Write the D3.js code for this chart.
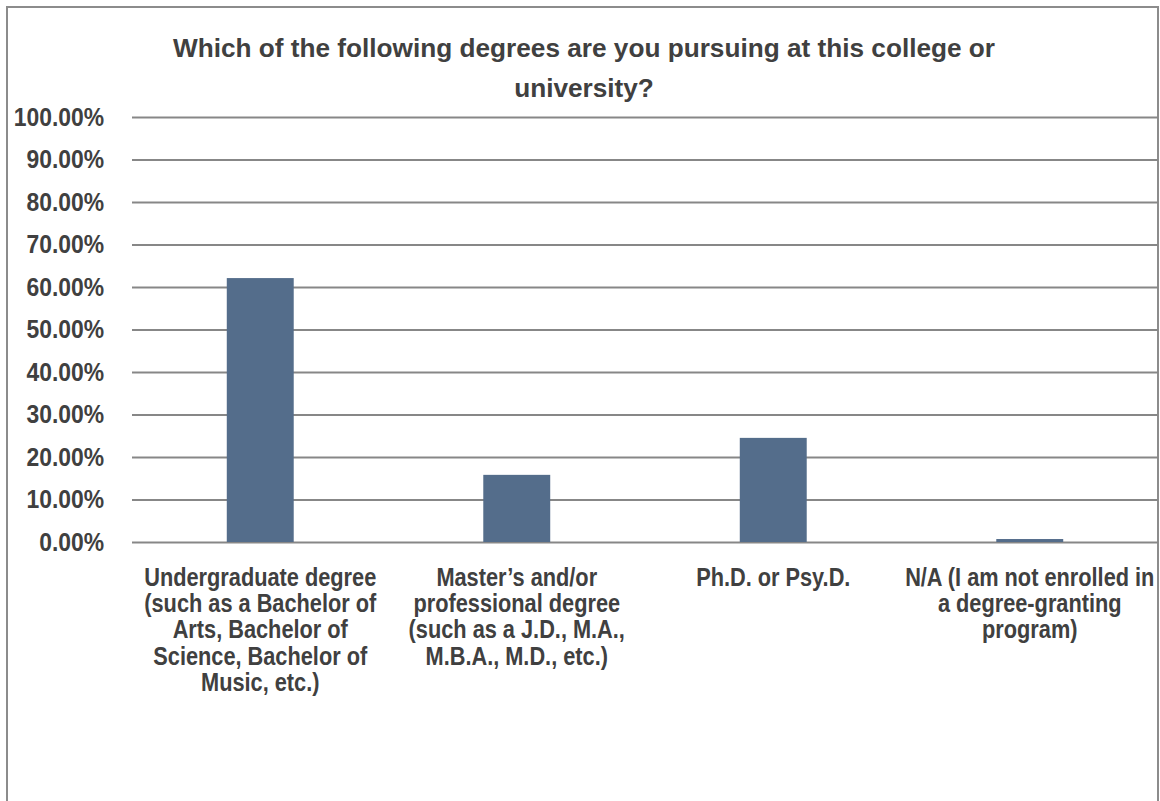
<!DOCTYPE html>
<html>
<head>
<meta charset="utf-8">
<script src="https://cdn.jsdelivr.net/npm/d3@7"></script>
<style>
  html, body { margin: 0; padding: 0; background: #ffffff; }
  svg { display: block; }
  text { font-family: "Liberation Sans", Arial, sans-serif; font-weight: bold; fill: #404040; }
</style>
</head>
<body>
<svg id="chart" width="1160" height="801"></svg>
<script>
// ---- data ----
const titleLines = ["Which of the following degrees are you pursuing at this college or", "university?"];
const categories = [
  "Undergraduate degree\n(such as a Bachelor of\nArts, Bachelor of\nScience, Bachelor of\nMusic, etc.)",
  "Master\u2019s and/or\nprofessional degree\n(such as a J.D., M.A.,\nM.B.A., M.D., etc.)",
  "Ph.D. or Psy.D.",
  "N/A (I am not enrolled in\na degree-granting\nprogram)"
];
const values = [0.621, 0.158, 0.245, 0.007];
const yTicks = [0, 0.1, 0.2, 0.3, 0.4, 0.5, 0.6, 0.7, 0.8, 0.9, 1.0];

// ---- layout ----
const W = 1160, H = 801;
const plot = { left: 132, right: 1158, top: 117, bottom: 542 };
const svg = d3.select("#chart");

// outer border
svg.append("rect")
  .attr("x", 7).attr("y", 7).attr("width", 1151).attr("height", 840)
  .attr("fill", "none").attr("stroke", "#8c8c8c").attr("stroke-width", 2);

const x = d3.scaleBand().domain(categories).range([plot.left, plot.right])
  .paddingInner(0.739).paddingOuter(0.3695);
const y = d3.scaleLinear().domain([0, 1]).range([plot.bottom, plot.top]);

// y axis with gridlines
const yAxis = d3.axisLeft(y).tickValues(yTicks).tickFormat(d3.format(".2%"))
  .tickSize(-(plot.right - plot.left)).tickPadding(28);
const gy = svg.append("g").attr("transform", `translate(${plot.left},0)`).call(yAxis);
gy.select(".domain").remove();
gy.selectAll(".tick line").attr("stroke", "#878787").attr("stroke-width", 2);
gy.selectAll(".tick text")
  .attr("x", 0)
  .attr("transform", "translate(-28,0) scale(0.88,1)")
  .style("font-size", "26px")
  .attr("fill", "#404040");

// bars
svg.append("g").selectAll("rect").data(values).join("rect")
  .attr("x", (d, i) => x(categories[i]))
  .attr("width", x.bandwidth())
  .attr("y", d => y(d))
  .attr("height", d => y(0) - y(d))
  .attr("fill", "#546d8b");

// category labels
const lab = svg.append("g");
categories.forEach(c => {
  const cx = x(c) + x.bandwidth() / 2;
  const g = lab.append("g").attr("transform", `translate(${cx},586) scale(0.87,1)`);
  c.split("\n").forEach((line, j) => {
    g.append("text").attr("x", 0).attr("y", j * 26.2)
      .attr("text-anchor", "middle").style("font-size", "25px").text(line);
  });
});

// title
const tg = svg.append("g").attr("transform", "translate(584,57)");
titleLines.forEach((line, j) => {
  tg.append("text").attr("x", 0).attr("y", j * 40)
    .attr("text-anchor", "middle").style("font-size", "26.2px").text(line);
});
</script>
</body>
</html>
